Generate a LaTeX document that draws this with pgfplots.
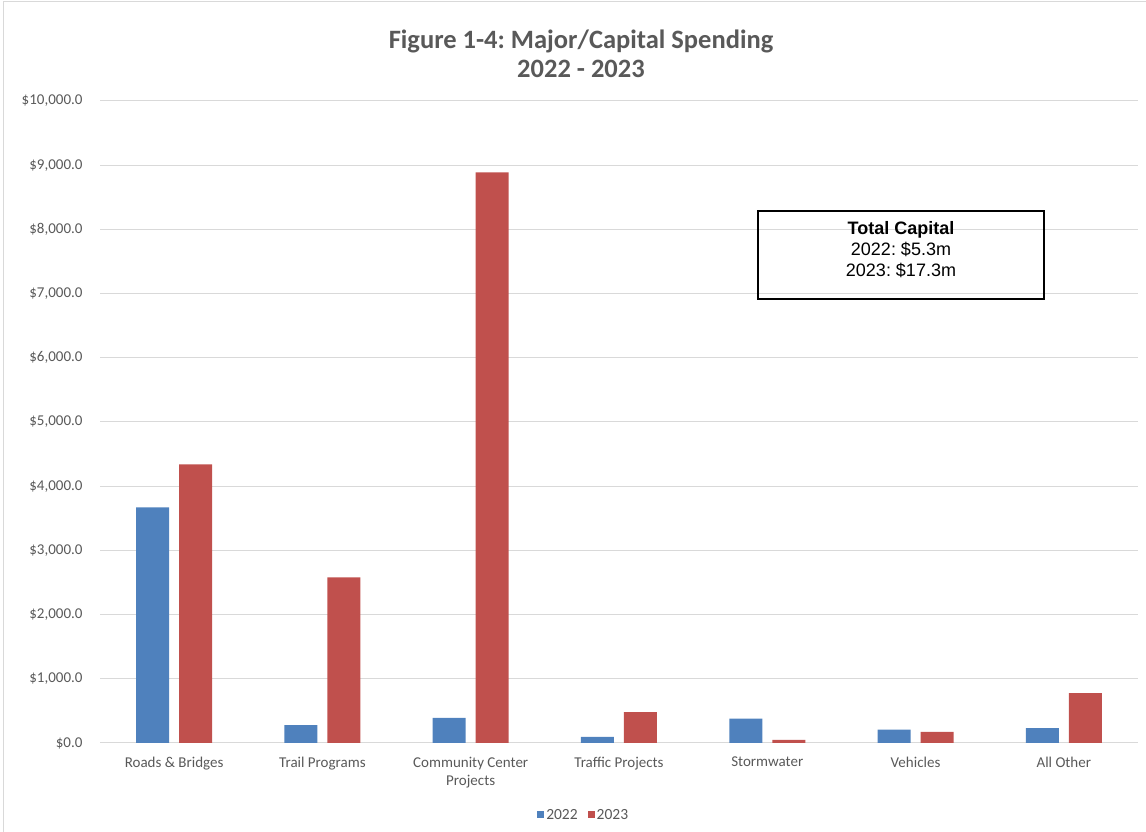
\documentclass[border=0pt]{standalone}
\usepackage{pgfplots}
\usepackage{pgfplotstable}
\pgfplotsset{compat=1.18}
\usepackage{fontspec}
\setmainfont{Carlito}
\newfontfamily\arial{Liberation Sans}
\frenchspacing
\definecolor{barblue}{HTML}{4F81BD}
\definecolor{barred}{HTML}{C0504D}
\definecolor{gridgray}{HTML}{D9D9D9}
\definecolor{txtgray}{HTML}{595959}

% spending in $ thousands
\pgfplotstableread{
cat y2022 y2023
0   3670  4340
1   280   2580
2   390   8890
3   95    480
4   380   50
5   210   175
6   230   775
}\spending

\begin{document}
\begin{tikzpicture}
\useasboundingbox (0,0) rectangle (1146bp,832bp);
\draw[gridgray, line width=1bp] (3bp,-5bp) -- (3bp,830bp) -- (1150bp,830bp);
\begin{axis}[
  at={(100bp,89bp)}, anchor=south west,
  scale only axis, width=1038bp, height=642bp,
  ybar, bar width=33bp,
  xmin=-0.5, xmax=6.5, ymin=0, ymax=10000,
  xtick={0,...,6},
  xticklabels={Roads \& Bridges, Trail Programs, Community Center\\Projects,
    Traffic Projects, Stormwater, Vehicles, All Other},
  xticklabel style={align=center, text=txtgray,
    font=\fontsize{15bp}{18bp}\selectfont, yshift=-6bp},
  ytick={0,1000,...,10000},
  scaled y ticks=false,
  /pgf/number format/assume math mode=true,
  yticklabel={\$\pgfmathprintnumber[fixed, fixed zerofill, precision=1, 1000 sep={,}]{\tick}},
  yticklabel style={text=txtgray, font=\fontsize{15bp}{18bp}\selectfont, xshift=-14bp},
  ymajorgrids, grid style={gridgray, line width=1bp},
  axis line style={draw=none}, tick style={draw=none},
  legend style={at={(0.466,-0.112)}, anchor=center, draw=none,
    font=\fontsize{15.5bp}{18bp}\selectfont, text=txtgray,
    legend columns=2, /tikz/every even column/.append style={column sep=8bp}},
  legend image code/.code={\fill[#1] (0bp,-3.5bp) rectangle (7bp,3.5bp);},
]
\addplot[fill=barblue, draw=none, bar shift=-21.5bp] table[x=cat, y=y2022] {\spending};
\addplot[fill=barred, draw=none, bar shift=21.5bp] table[x=cat, y=y2023] {\spending};
\legend{2022, 2023}
\end{axis}
\node[font=\fontsize{26.5bp}{29bp}\selectfont\bfseries, text=txtgray, align=center]
  at (581bp, 778bp) {Figure 1-4: Major/Capital Spending\\2022 - 2023};
\draw[line width=1.3bp] (758bp,621bp) rectangle (1044bp,533bp);
\node[font=\arial\fontsize{18bp}{21bp}\selectfont, align=center] at (901bp, 582bp)
  {\textbf{Total Capital}\\2022: \$5.3m\\2023: \$17.3m};
\end{tikzpicture}
\end{document}
